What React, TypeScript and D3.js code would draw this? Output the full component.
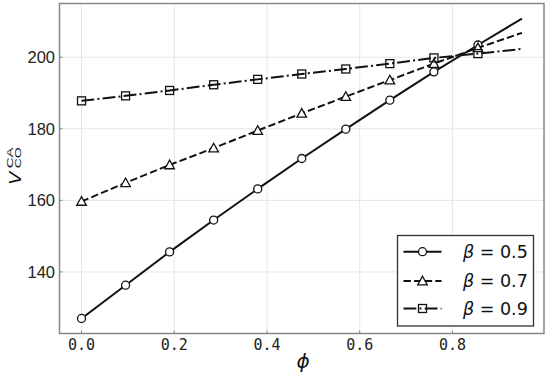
import React from "react";
import * as d3 from "d3";

const phi = [0, 0.095, 0.19, 0.285, 0.38, 0.475, 0.57, 0.665, 0.76, 0.855, 0.95];
const beta05 = [127.0, 136.3, 145.6, 154.5, 163.2, 171.7, 179.9, 188.0, 195.9, 203.4, 210.8];
const beta07 = [159.7, 164.9, 169.9, 174.6, 179.5, 184.3, 189.0, 193.6, 198.2, 202.6, 206.8];
const beta09 = [187.8, 189.2, 190.7, 192.3, 193.8, 195.3, 196.7, 198.2, 199.8, 201.0, 202.3];
const seriesLabels = ["0.5", "0.7", "0.9"];
const xTicks = [0, 0.2, 0.4, 0.6, 0.8];
const yTicks = [140, 160, 180, 200];

const W = 550, H = 378;
const L = 59.5, R = 544, T = 3.5, B = 333.5;

export default function App() {
  const x = d3.scaleLinear().domain([-0.0475, 0.9975]).range([L, R]);
  const y = d3.scaleLinear().domain([122.8, 215.0]).range([B, T]);
  const series = [
    { vals: beta05, dash: "none", marker: "circle", fill: "white" },
    { vals: beta07, dash: "7.4,3.2", marker: "triangle", fill: "white" },
    { vals: beta09, dash: "12.8,3.2,2,3.2", marker: "square", fill: "none" },
  ];
  const line = d3.line<number>().x((_, i) => x(phi[i])).y((d) => y(d));
  const drawMarker = (type: string, cx: number, cy: number, fill: string, key: any) => {
    if (type === "circle") return <circle key={key} cx={cx} cy={cy} r={4} fill={fill} stroke="#111" strokeWidth={1.3} />;
    if (type === "triangle") {
      const s = 4.8;
      return <path key={key} d={`M${cx},${cy - s}L${cx + s},${cy + s * 0.8}L${cx - s},${cy + s * 0.8}Z`} fill={fill} stroke="#111" strokeWidth={1.3} />;
    }
    return <rect key={key} x={cx - 4} y={cy - 4} width={8} height={8} fill={fill} stroke="#111" strokeWidth={1.3} />;
  };
  const legX = 397.5, legY = 235.5, legW = 136, legH = 90.5;
  const rowY = [251.7, 281, 308.5];
  return (
    <svg width={W} height={H} style={{ position: "absolute", left: 0, top: 0, background: "white" }}>
      <rect x={0} y={0} width={W} height={H} fill="white" />
      {xTicks.map((t) => (
        <line key={"gx" + t} x1={x(t)} x2={x(t)} y1={T} y2={B} stroke="#e6e6e6" strokeWidth={1} />
      ))}
      {yTicks.map((t) => (
        <line key={"gy" + t} x1={L} x2={R} y1={y(t)} y2={y(t)} stroke="#e6e6e6" strokeWidth={1} />
      ))}
      {series.map((s, si) => (
        <g key={"s" + si}>
          <path d={line(s.vals) || ""} fill="none" stroke="#111" strokeWidth={2} strokeDasharray={s.dash} />
          {s.vals.slice(0, 10).map((v, i) => drawMarker(s.marker, x(phi[i]), y(v), s.fill, i))}
        </g>
      ))}
      <rect x={L} y={T} width={R - L} height={B - T} fill="none" stroke="#888" strokeWidth={1.5} />
      {xTicks.map((t) => (
        <g key={"xt" + t}>
          <line x1={x(t)} x2={x(t)} y1={B} y2={B - 3} stroke="#888" strokeWidth={1} />
          <text x={x(t)} y={350} textAnchor="middle" fontFamily="DejaVu Sans Mono" fontSize={15} fill="#222">
            {t.toFixed(1)}
          </text>
        </g>
      ))}
      {yTicks.map((t) => (
        <g key={"yt" + t}>
          <line x1={L} x2={L + 3} y1={y(t)} y2={y(t)} stroke="#888" strokeWidth={1} />
          <text x={55} y={y(t)} dy="0.36em" textAnchor="end" fontFamily="Liberation Sans" fontSize={16.5} fill="#222">
            {t}
          </text>
        </g>
      ))}
      <text x={303} y={368} textAnchor="middle" fontFamily="DejaVu Sans" fontStyle="italic" fontSize={20} fill="#111">
        ϕ
      </text>
      <g transform="translate(20.5,170) rotate(-90)">
        <text x={-15} y={0} fontFamily="Liberation Sans" fontStyle="italic" fontSize={16.5} textLength={13} lengthAdjust="spacingAndGlyphs" fill="#111">V</text>
        <text x={1.7} y={-7.5} fontFamily="Liberation Sans" fontSize={9.5} textLength={21} lengthAdjust="spacingAndGlyphs" fill="#111">CA</text>
        <text x={1.7} y={0} fontFamily="Liberation Sans" fontSize={9.5} textLength={21} lengthAdjust="spacingAndGlyphs" fill="#111">CO</text>
      </g>
      <rect x={legX} y={legY} width={legW} height={legH} fill="white" stroke="#333" strokeWidth={1.3} />
      {series.map((s, si) => (
        <g key={"lg" + si}>
          <line x1={403.5} x2={441.5} y1={rowY[si]} y2={rowY[si]} stroke="#111" strokeWidth={2} strokeDasharray={s.dash} />
          {drawMarker(s.marker, 422.5, rowY[si], s.fill, "m")}
          <text x={463} y={rowY[si]} dy="0.36em" fontFamily="DejaVu Sans" fontSize={17.5} fill="#111">
            <tspan fontStyle="italic">β</tspan>
            <tspan> = {seriesLabels[si]}</tspan>
          </text>
        </g>
      ))}
    </svg>
  );
}
